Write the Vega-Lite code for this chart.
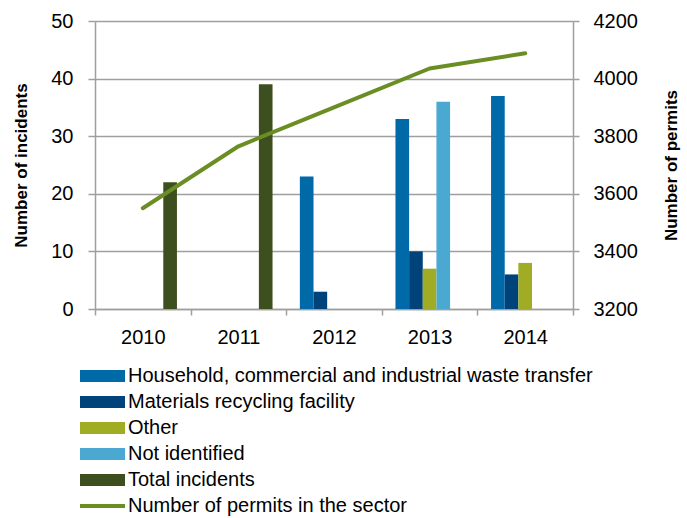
{
  "$schema": "https://vega.github.io/schema/vega-lite/v6.json",
  "width": 478,
  "height": 288,
  "autosize": {"type": "none"},
  "padding": {"left": 95, "top": 21, "right": 114, "bottom": 209},
  "config": {
    "view": {"stroke": null},
    "font": "Liberation Sans",
    "axis": {
      "labelColor": "#000000",
      "titleColor": "#000000",
      "labelFont": "Liberation Sans",
      "titleFont": "Liberation Sans",
      "domainColor": "#9f9f9f",
      "domainWidth": 1.5,
      "tickColor": "#9f9f9f",
      "tickWidth": 1.5
    }
  },
  "datasets": {
    "bars": [
      {"year": "2010", "category": "Total incidents", "value": 22},
      {"year": "2011", "category": "Total incidents", "value": 39},
      {"year": "2012", "category": "Household, commercial and industrial waste transfer", "value": 23},
      {"year": "2012", "category": "Materials recycling facility", "value": 3},
      {"year": "2013", "category": "Household, commercial and industrial waste transfer", "value": 33},
      {"year": "2013", "category": "Materials recycling facility", "value": 10},
      {"year": "2013", "category": "Other", "value": 7},
      {"year": "2013", "category": "Not identified", "value": 36},
      {"year": "2014", "category": "Household, commercial and industrial waste transfer", "value": 37},
      {"year": "2014", "category": "Materials recycling facility", "value": 6},
      {"year": "2014", "category": "Other", "value": 8}
    ],
    "permits": [
      {"year": "2010", "permits": 3550},
      {"year": "2011", "permits": 3765},
      {"year": "2012", "permits": 3900},
      {"year": "2013", "permits": 4035},
      {"year": "2014", "permits": 4088}
    ]
  },
  "layer": [
    {
      "data": {"name": "bars"},
      "mark": {"type": "bar"},
      "encoding": {
        "x": {
          "field": "year",
          "type": "ordinal",
          "scale": {"paddingInner": 0, "paddingOuter": 0},
          "axis": {
            "title": null,
            "labelAngle": 0,
            "tickBand": "extent",
            "tickSize": 6,
            "labelFontSize": 20,
            "labelPadding": 12
          }
        },
        "xOffset": {
          "field": "category",
          "type": "nominal",
          "scale": {
            "domain": [
              "Household, commercial and industrial waste transfer",
              "Materials recycling facility",
              "Other",
              "Not identified",
              "Total incidents"
            ],
            "paddingInner": 0,
            "paddingOuter": 1.324
          }
        },
        "y": {
          "field": "value",
          "type": "quantitative",
          "scale": {"domain": [0, 50], "nice": false},
          "axis": {
            "title": "Number of incidents",
            "titleFontSize": 17,
            "titleFontWeight": "bold",
            "titlePadding": 20,
            "values": [0, 10, 20, 30, 40, 50],
            "grid": true,
            "gridColor": "#9f9f9f",
            "gridWidth": 1.5,
            "tickSize": 7,
            "labelPadding": 15,
            "labelFontSize": 20
          }
        },
        "fill": {
          "field": "category",
          "type": "nominal",
          "scale": {
            "domain": [
              "Household, commercial and industrial waste transfer",
              "Materials recycling facility",
              "Other",
              "Not identified",
              "Total incidents"
            ],
            "range": ["#0069a8", "#00427a", "#a0ac24", "#4ba9d1", "#3d4f1e"]
          },
          "legend": {
            "title": null,
            "orient": "none",
            "legendX": -15,
            "legendY": 342,
            "direction": "vertical",
            "symbolType": "M-1,-0.27H1V0.27H-1Z",
            "symbolSize": 2025,
            "symbolStrokeWidth": 0,
            "symbolOpacity": 1,
            "clipHeight": 26,
            "rowPadding": 0,
            "labelFontSize": 20,
            "labelFont": "Liberation Sans",
            "labelColor": "#000000",
            "labelLimit": 0,
            "labelOffset": 3
          }
        }
      }
    },
    {
      "data": {"name": "permits"},
      "mark": {"type": "line", "strokeWidth": 4, "strokeCap": "round", "strokeJoin": "round"},
      "encoding": {
        "x": {"field": "year", "type": "ordinal"},
        "y": {
          "field": "permits",
          "type": "quantitative",
          "scale": {"domain": [3200, 4200], "nice": false},
          "axis": {
            "orient": "right",
            "title": "Number of permits",
            "titleFontSize": 17,
            "titleFontWeight": "bold",
            "titleAngle": 270,
            "titleBaseline": "top",
            "titlePadding": 26,
            "values": [3200, 3400, 3600, 3800, 4000, 4200],
            "format": "d",
            "grid": false,
            "tickSize": 6,
            "labelPadding": 14,
            "labelFontSize": 20
          }
        },
        "stroke": {
          "datum": "Number of permits in the sector",
          "type": "nominal",
          "scale": {"range": ["#6a8e23"]},
          "legend": {
            "title": null,
            "orient": "none",
            "legendX": -17,
            "legendY": 472,
            "symbolType": "stroke",
            "symbolSize": 2025,
            "symbolStrokeWidth": 4,
            "clipHeight": 26,
            "labelFontSize": 20,
            "labelFont": "Liberation Sans",
            "labelColor": "#000000",
            "labelLimit": 0,
            "labelOffset": 1
          }
        }
      }
    }
  ],
  "resolve": {"scale": {"y": "independent", "fill": "independent", "stroke": "independent"}}
}
